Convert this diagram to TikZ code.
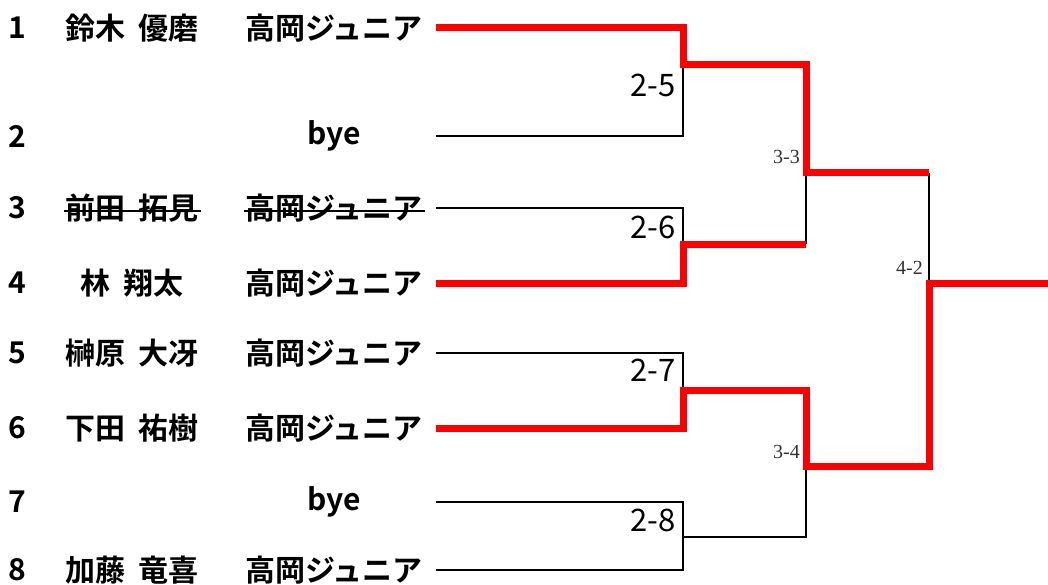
\documentclass[tikz,border=0pt]{standalone}
\usepackage{fontspec}
\setmainfont{Noto Sans CJK JP}[BoldFont={Noto Sans CJK JP Bold}]
\newfontfamily\minfont{Liberation Serif}
\usepackage{xcolor}
\usepackage[]{tikz}
\usetikzlibrary{positioning}
\definecolor{winred}{RGB}{255,0,0}
\tikzset{seed node/.style={font=\fontsize{30}{32}\selectfont\bfseries,inner sep=0pt},
  player node/.style={font=\fontsize{30}{32}\selectfont\bfseries,inner sep=0pt},
  win line/.style={draw=winred,line width=7pt},
  lose line/.style={draw=black,line width=2.8pt},
  strike/.style={draw=black,line width=1.8pt},
  score node/.style={font=\fontsize{31}{33}\selectfont,anchor=east,inner sep=0pt},
  round node/.style={font=\minfont\fontsize{20}{22}\selectfont,text=black!80,anchor=east,inner sep=0pt}}

\begin{document}
\begin{tikzpicture}[x=1pt, y=-1pt, on grid]
      \useasboundingbox (0,0) rectangle (1048,585);
      % seeds
      \node[seed node] (s1) at (17,28) {1};
      \node[seed node] (s2) at (17,136) {2};
      \node[seed node] (s3) at (17,208) {3};
      \node[seed node] (s4) at (17,283) {4};
      \node[seed node] (s5) at (17,353) {5};
      \node[seed node] (s6) at (17,428) {6};
      \node[seed node] (s7) at (17,502) {7};
      \node[seed node] (s8) at (17,570) {8};
      % names and clubs
      \node[player node] (n1) [right = 115pt of s1] {鈴木\hspace{0.45em}優磨};
      \node[player node] (c1) [right = 202pt of n1] {高岡ジュニア};
      \node[player node] (c2) [right = 317pt of s2] {bye};
      \node[player node] (n3) [right = 115pt of s3] {前田\hspace{0.45em}拓見};
      \node[player node] (c3) [right = 202pt of n3] {高岡ジュニア};
      \node[player node] (n4) [right = 115pt of s4] {林\hspace{0.45em}翔太};
      \node[player node] (c4) [right = 202pt of n4] {高岡ジュニア};
      \node[player node] (n5) [right = 115pt of s5] {榊原\hspace{0.45em}大冴};
      \node[player node] (c5) [right = 202pt of n5] {高岡ジュニア};
      \node[player node] (n6) [right = 115pt of s6] {下田\hspace{0.45em}祐樹};
      \node[player node] (c6) [right = 202pt of n6] {高岡ジュニア};
      \node[player node] (c7) [right = 317pt of s7] {bye};
      \node[player node] (n8) [right = 115pt of s8] {加藤\hspace{0.45em}竜喜};
      \node[player node] (c8) [right = 202pt of n8] {高岡ジュニア};
      \draw[strike] ([xshift=-1pt,yshift=-3pt]n3.west) -- ([xshift=2pt,yshift=-3pt]n3.east);
      \draw[strike] ([xshift=-1pt,yshift=-3pt]c3.west) -- ([xshift=2pt,yshift=-3pt]c3.east);
      % line ends
      \coordinate (e1) at (436,28);
      \coordinate (e2) at (436,136);
      \coordinate (e3) at (436,208);
      \coordinate (e4) at (436,283);
      \coordinate (e5) at (436,353);
      \coordinate (e6) at (436,428);
      \coordinate (e7) at (436,502);
      \coordinate (e8) at (436,570);
      % junctions
      \coordinate (m25) at (683,65);
      \coordinate (m26) at (683,244);
      \coordinate (m27) at (683,390);
      \coordinate (m28) at (683,537);
      \coordinate (m33) at (806,173);
      \coordinate (m34) at (806,466);
      \coordinate (m42) at (929,283);
      \coordinate (w) at (1048,283);
      % losers
      \draw[lose line] (e2) -| (m25);
      \draw[lose line] (e3) -| (m26);
      \draw[lose line] (e5) -| (m27);
      \draw[lose line] (e7) -| (m28) |- (e8);
      \draw[lose line] (m28) -| (m34);
      \draw[lose line] (m33) -- (m26 -| m33);
      \draw[lose line] (m42) -- (m33 -| m42);
      % winners
      \draw[win line] (e1) -| (m25) -| (m33) -- (m33 -| m42);
      \draw[win line] (e4) -| (m26) -- (m26 -| m33);
      \draw[win line] (e6) -| (m27) -| (m34) -| (m42) -- (w);
      % scores
      \node[score node] (l25) at (676,85) {2-5};
      \node[score node] (l26) at (676,227) {2-6};
      \node[score node] (l27) at (676,370) {2-7};
      \node[score node] (l28) at (676,520) {2-8};
      \node[round node] (l33) at (800,157) {3-3};
      \node[round node] (l34) at (800,452) {3-4};
      \node[round node] (l42) at (923,268) {4-2};
    \end{tikzpicture}
\end{document}
